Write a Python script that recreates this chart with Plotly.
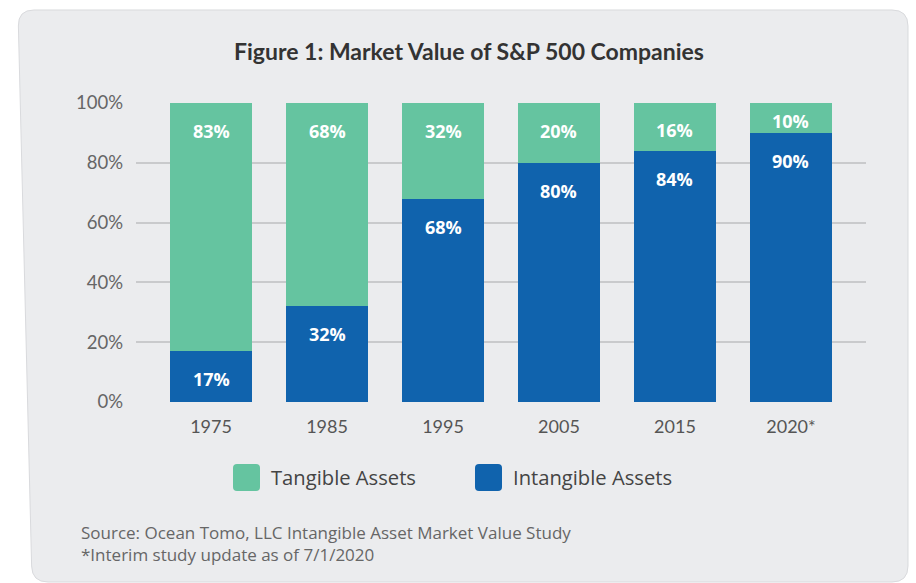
import plotly.graph_objects as go

# Data
years = ["1975", "1985", "1995", "2005", "2015", "2020*"]
tangible = [83, 68, 32, 20, 16, 10]
intangible = [17, 32, 68, 80, 84, 90]
y_ticks = [0, 20, 40, 60, 80, 100]
y_tick_text = [f"{v}%" for v in y_ticks]

GREEN = "#65C4A0"
BLUE = "#1063AD"
PANEL = "#EBECEE"
FONT = "Lato"
TEXT_FONT = "Open Sans"

W, H = 916, 583
L, R, T, B = 136, 866, 103, 402  # plot area in pixels


def px(x):
    return (x - L) / (R - L)


def py(y):
    return (B - y) / (B - T)


def rounded_path(pts, r):
    """Closed SVG path (paper coords) for a polygon given in pixels, with rounded corners."""
    n = len(pts)
    segs = []
    for i in range(n):
        p0 = pts[i - 1]
        p1 = pts[i]
        p2 = pts[(i + 1) % n]

        def toward(a, b, d):
            dx, dy = b[0] - a[0], b[1] - a[1]
            ln = (dx * dx + dy * dy) ** 0.5
            return (a[0] + dx / ln * d, a[1] + dy / ln * d)

        a = toward(p1, p0, r)
        b = toward(p1, p2, r)
        cmd = "M" if i == 0 else "L"
        segs.append(f"{cmd} {px(a[0]):.5f},{py(a[1]):.5f}")
        segs.append(f"Q {px(p1[0]):.5f},{py(p1[1]):.5f} {px(b[0]):.5f},{py(b[1]):.5f}")
    return " ".join(segs) + " Z"


fig = go.Figure()
fig.add_trace(go.Bar(x=years, y=intangible, name="Intangible Assets",
                     marker=dict(color=BLUE, line=dict(width=0)), hoverinfo="skip"))
fig.add_trace(go.Bar(x=years, y=tangible, name="Tangible Assets",
                     marker=dict(color=GREEN, line=dict(width=0)), hoverinfo="skip"))

annotations = []
label_font = dict(family=TEXT_FONT, size=18, color="white", weight="bold")
seg_px = (B - T) / 100.0
for i, (tv, iv) in enumerate(zip(tangible, intangible)):
    # category index keeps numeric-looking year names from being read as numbers
    for val, top in ((iv, iv), (tv, iv + tv)):
        shift = min(28, val * seg_px / 2 + 3)
        annotations.append(dict(x=i, y=top, xref="x", yref="y", text=f"{val}%",
                                showarrow=False, yshift=-shift, yanchor="middle",
                                font=label_font))

# Title
annotations.append(dict(x=px(469), y=py(51), xref="paper", yref="paper",
                        text="Figure 1: Market Value of S&P 500 Companies", showarrow=False,
                        xanchor="center", yanchor="middle",
                        font=dict(family=FONT, size=23, color="#333333", weight="bold")))

# Legend entries
legend_items = [("Tangible Assets", GREEN, 233), ("Intangible Assets", BLUE, 475)]
shapes = []
for label, color, x0 in legend_items:
    sq = [(x0, 464), (x0 + 27, 464), (x0 + 27, 491), (x0, 491)]
    shapes.append(dict(type="path", xref="paper", yref="paper", path=rounded_path(sq, 4),
                       fillcolor=color, line=dict(width=0), layer="above"))
    annotations.append(dict(x=px(x0 + 36), y=py(477), xref="paper", yref="paper",
                            text=label, showarrow=False, xanchor="left", yanchor="middle",
                            font=dict(family=TEXT_FONT, size=20.2, color="#444444")))

# Source notes (two lines in one block)
annotations.append(dict(x=px(79), y=py(543.5), xref="paper", yref="paper",
                        text="Source: Ocean Tomo, LLC Intangible Asset Market Value Study"
                             "<br>*Interim study update as of 7/1/2020",
                        showarrow=False, xanchor="left", yanchor="middle", align="left",
                        font=dict(family=TEXT_FONT, size=17, color="#666666")))

# Background card
card = [(18, 10), (908, 10), (908, 582), (32, 582)]
shapes.insert(0, dict(type="path", xref="paper", yref="paper", path=rounded_path(card, 16),
                      fillcolor=PANEL, line=dict(color="#D9DADD", width=1), layer="below"))

fig.update_layout(
    width=W, height=H,
    margin=dict(l=L, r=W - R, t=T, b=H - B, pad=0),
    paper_bgcolor="white",
    plot_bgcolor="rgba(0,0,0,0)",
    barmode="stack",
    bargap=0.293,
    showlegend=False,
    shapes=shapes,
    annotations=annotations,
    font=dict(family=FONT),
    xaxis=dict(type="category", range=[-0.647, 5.647], showgrid=False, zeroline=False,
               showline=False, ticks="", ticklabelstandoff=12,
               tickfont=dict(family=FONT, size=18, color="#555555")),
    yaxis=dict(range=[0, 100], tickvals=y_ticks, ticktext=y_tick_text, showgrid=True,
               gridcolor="#C9CACC", gridwidth=1.5, zeroline=False, showline=False,
               ticks="", ticklabelstandoff=12,
               tickfont=dict(family=FONT, size=18.5, color="#666666")),
)

fig.write_html("out.html")
